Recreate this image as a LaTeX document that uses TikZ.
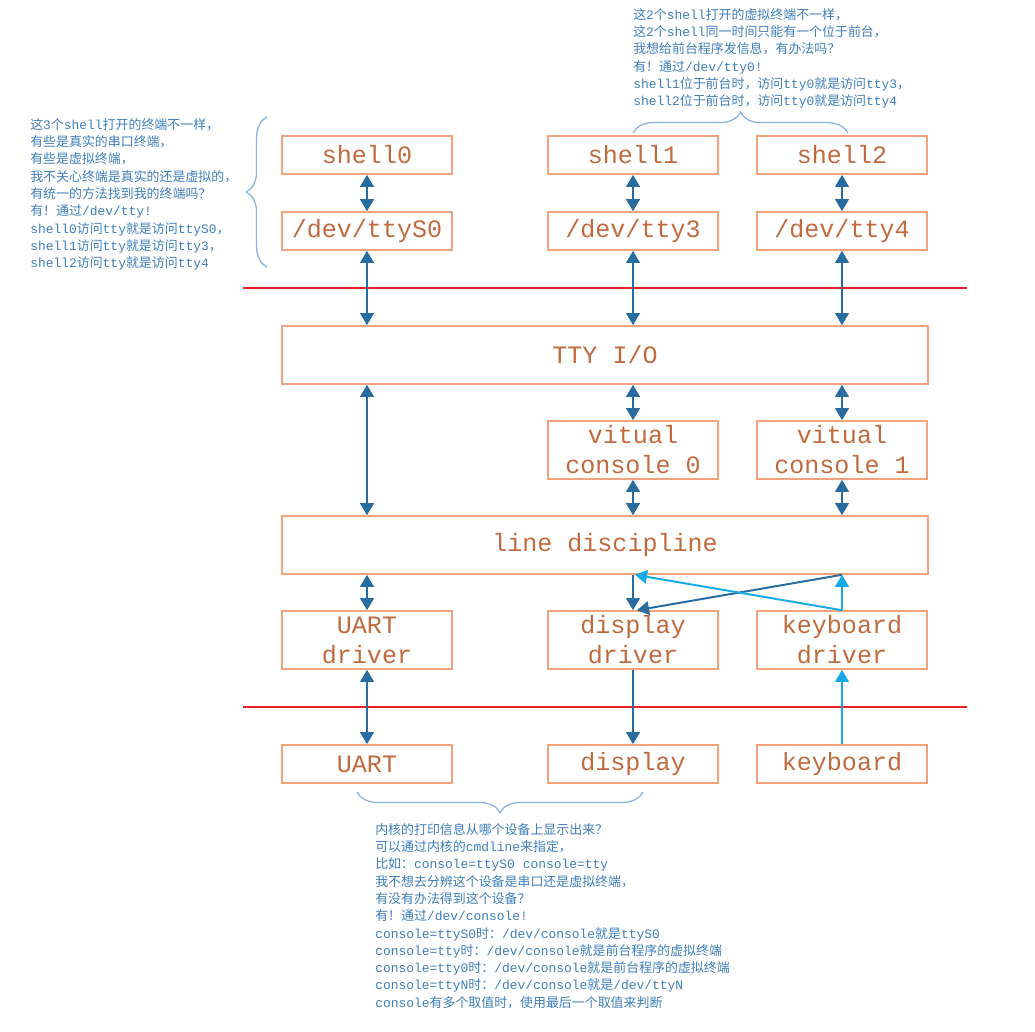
\documentclass[tikz,border=0pt]{standalone}
\usepackage{fontspec}
\setmainfont{Liberation Mono}
\newfontfamily\monofont{Liberation Mono}
\newfontfamily\cjkfont{Noto Sans CJK SC}
\usetikzlibrary{arrows.meta,decorations.pathreplacing}

% switch to the CJK font for Chinese characters
\XeTeXinterchartokenstate=1
\newXeTeXintercharclass\cjkcls
\newcount\cjkcnt
\def\setcjkrange#1#2{\cjkcnt=#1 \loop\XeTeXcharclass\cjkcnt=\cjkcls
  \ifnum\cjkcnt<#2 \advance\cjkcnt by 1 \repeat}
\setcjkrange{"3000}{"303F}
\setcjkrange{"4E00}{"9FFF}
\setcjkrange{"FF00}{"FFEF}
\XeTeXinterchartoks 0 \cjkcls = {\cjkfont}
\XeTeXinterchartoks 4095 \cjkcls = {\cjkfont}
\XeTeXinterchartoks \cjkcls 0 = {\monofont}
\XeTeXinterchartoks 4095 0 = {\monofont}

\definecolor{boxline}{RGB}{244,162,124}
\definecolor{boxtext}{RGB}{192,106,62}
\definecolor{darr}{RGB}{40,108,160}
\definecolor{larr}{RGB}{22,170,230}
\definecolor{sepred}{RGB}{230,32,36}
\definecolor{notetext}{RGB}{62,126,186}
\definecolor{bracecol}{RGB}{140,178,224}

\begin{document}
\begin{tikzpicture}[x=0.025cm,y=-0.025cm,
    box/.style={draw=boxline,line width=1.1pt,text=boxtext,font=\fontsize{17.8}{21.3}\selectfont,
      minimum width=4.25cm,minimum height=0.95cm,inner sep=0pt,align=center},
    tall/.style={minimum height=1.45cm},
    wide/.style={minimum width=16.15cm,minimum height=1.45cm},
    link/.style={draw=darr,line width=1.4pt,>={Triangle[length=3mm,width=3.4mm]}},
    klink/.style={link,draw=larr},
    sep/.style={draw=sepred,line width=1.1pt},
    note/.style={anchor=north west,inner sep=0pt,align=left,text=notetext,font=\fontsize{9.2}{12.3}\selectfont},
    brc/.style={draw=bracecol,line width=0.9pt,decorate,decoration={brace,amplitude=0.52cm}}]
  \useasboundingbox (0,0) rectangle (1035,1032);

  % boxes
  \node[box] (sh0) at (367,155) {shell0};
  \node[box] (sh1) at (633,155) {shell1};
  \node[box] (sh2) at (842,155) {shell2};
  \node[box] (ts0) at (367,231) {/dev/ttyS0};
  \node[box] (t3) at (633,231) {/dev/tty3};
  \node[box] (t4) at (842,231) {/dev/tty4};
  \node[box,wide] (tio) at (605,355) {TTY I/O};
  \node[box,tall] (vc0) at (633,450) {vitual\\console 0};
  \node[box,tall] (vc1) at (842,450) {vitual\\console 1};
  \node[box,wide] (ldisc) at (605,545) {line discipline};
  \node[box,tall] (udrv) at (367,640) {UART\\driver};
  \node[box,tall] (ddrv) at (633,640) {display\\driver};
  \node[box,tall] (kdrv) at (842,640) {keyboard\\driver};
  \node[box] (uart) at (367,764) {UART};
  \node[box] (disp) at (633,764) {display};
  \node[box] (kbd) at (842,764) {keyboard};

  % red separators
  \coordinate (r1a) at (243,288);
  \coordinate (r1b) at (967,288);
  \coordinate (r2a) at (243,707);
  \coordinate (r2b) at (967,707);
  \draw[sep] (r1a) -- (r1b);
  \draw[sep] (r2a) -- (r2b);

  % arrows
  \draw[link,<->] (sh0) -- (ts0);
  \draw[link,<->] (sh1) -- (t3);
  \draw[link,<->] (sh2) -- (t4);
  \draw[link,<->] (ts0) -- (ts0 |- tio.north);
  \draw[link,<->] (t3) -- (t3 |- tio.north);
  \draw[link,<->] (t4) -- (t4 |- tio.north);
  \draw[link,<->] (tio.south -| sh0) -- (ldisc.north -| sh0);
  \draw[link,<->] (tio.south -| vc0) -- (vc0);
  \draw[link,<->] (tio.south -| vc1) -- (vc1);
  \draw[link,<->] (vc0) -- (vc0 |- ldisc.north);
  \draw[link,<->] (vc1) -- (vc1 |- ldisc.north);
  \draw[link,<->] (ldisc.south -| udrv) -- (udrv);
  \draw[link,->] (ldisc.south -| ddrv) -- (ddrv);
  \draw[link,->] (ldisc.south -| kdrv) -- ([xshift=1mm]ddrv.north);
  \draw[klink,->] (kdrv) -- (kdrv |- ldisc.south);
  \draw[klink,->] (kdrv.north) -- ([xshift=0.5mm]ldisc.south -| ddrv);
  \draw[link,<->] (udrv) -- (uart);
  \draw[link,->] (ddrv) -- (disp);
  \draw[klink,->] (kbd) -- (kdrv);

  % braces
  \draw[brc] (267,267) -- (267,117);
  \draw[brc] (633,133) -- (848,133);
  \draw[brc] (643,792) -- (357,792);

  % notes
  \node[note] (nleft) at (30,118) {这3个shell打开的终端不一样，\\有些是真实的串口终端，\\有些是虚拟终端，\\我不关心终端是真实的还是虚拟的，\\有统一的方法找到我的终端吗？\\有！通过/dev/tty!\\shell0访问tty就是访问ttyS0，\\shell1访问tty就是访问tty3，\\shell2访问tty就是访问tty4};
  \node[note] (ntop) at (633,8) {这2个shell打开的虚拟终端不一样，\\这2个shell同一时间只能有一个位于前台，\\我想给前台程序发信息，有办法吗？\\有！通过/dev/tty0!\\shell1位于前台时，访问tty0就是访问tty3，\\shell2位于前台时，访问tty0就是访问tty4};
  \node[note] (nbot) at (375,823) {内核的打印信息从哪个设备上显示出来？\\可以通过内核的cmdline来指定，\\比如：console=ttyS0 console=tty\\我不想去分辨这个设备是串口还是虚拟终端，\\有没有办法得到这个设备？\\有！通过/dev/console!\\console=ttyS0时：/dev/console就是ttyS0\\console=tty时：/dev/console就是前台程序的虚拟终端\\console=tty0时：/dev/console就是前台程序的虚拟终端\\console=ttyN时：/dev/console就是/dev/ttyN\\console有多个取值时，使用最后一个取值来判断};
\end{tikzpicture}
\end{document}
